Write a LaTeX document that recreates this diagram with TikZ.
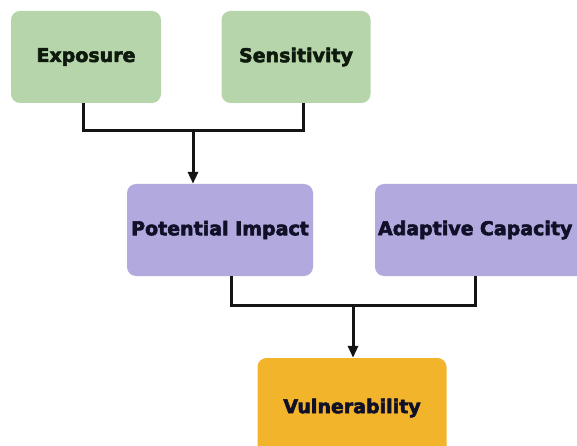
\documentclass[tikz,border=0pt]{standalone}
\usepackage{fontspec}
\setmainfont{DejaVu Sans}[BoldFeatures={FakeBold=3}]
\usetikzlibrary{arrows.meta}
\definecolor{greenbox}{RGB}{182,213,170}
\definecolor{purplebox}{RGB}{178,170,222}
\definecolor{orangebox}{RGB}{242,180,42}
\definecolor{greentext}{RGB}{14,26,14}
\definecolor{navytext}{RGB}{16,16,40}
\definecolor{linecol}{RGB}{20,20,20}
\begin{document}
\begin{tikzpicture}[x=1pt,y=-1pt,
  box/.style={rounded corners=9pt, inner sep=0pt, font=\fontsize{19}{21}\selectfont\bfseries},
  link/.style={draw=linecol, line width=3pt},
  flow/.style={link, -{Triangle[length=12pt,width=10pt]}}]
  \useasboundingbox (0,0) rectangle (577,446);
  \clip (0,0) rectangle (577,446);
  % level 1
  \node[box, fill=greenbox, text=greentext, minimum width=150pt, minimum height=92pt] (exp) at (86,57) {Exposure};
  \node[box, fill=greenbox, text=greentext, minimum width=149pt, minimum height=92pt] (sen) at (296,57) {Sensitivity};
  % level 2
  \node[box, fill=purplebox, text=navytext, minimum width=186pt, minimum height=92pt] (pot) at (220,230) {Potential Impact};
  \node[box, fill=purplebox, text=navytext, minimum width=212pt, minimum height=92pt, text width=206pt, align=left] (ada) at (481,230) {\hspace*{0pt}Adaptive Capacity};
  % level 3
  \node[box, fill=orangebox, text=navytext, minimum width=189pt, minimum height=100pt] (vul) at (352,408) {\raisebox{4pt}{Vulnerability}};
  % joins
  \coordinate (j1) at (193,131);
  \coordinate (j2) at (353,305);
  \draw[link] (exp.south -| 83,0) |- (j1) -| (sen.south -| 303,0);
  \draw[flow] (j1) -- (pot.north -| j1);
  \draw[link] (pot.south -| 231,0) |- (j2) -| (ada.south -| 475,0);
  \draw[flow] (j2) -- (vul.north -| j2);
\end{tikzpicture}
\end{document}
